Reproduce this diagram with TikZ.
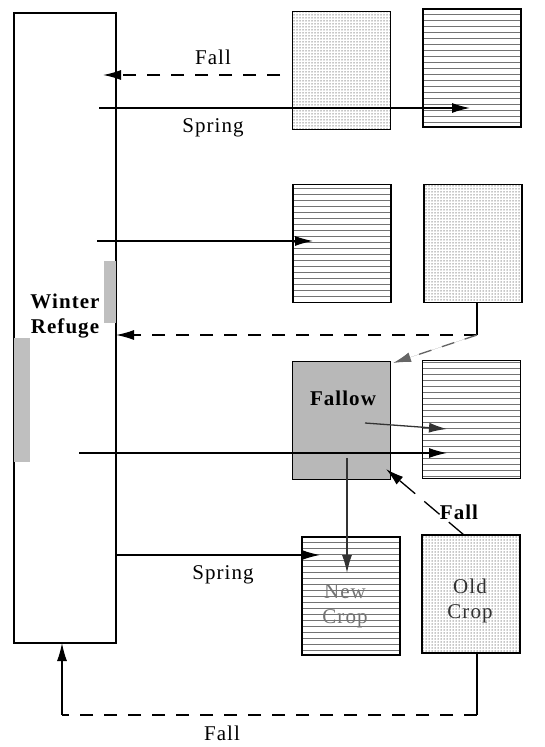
\documentclass[tikz,border=0pt]{standalone}
\usepackage{fontspec}
\setmainfont[LetterSpace=5]{Liberation Serif}
\usetikzlibrary{patterns.meta,arrows.meta,calc}
\begin{document}
\begin{tikzpicture}[x=1pt,y=-1pt,
  box/.style={draw, line width=1.2pt, inner sep=0pt, minimum width=98pt, minimum height=118pt},
  linebox/.style={box, pattern={Lines[angle=0,distance=6pt,line width=1pt]}, pattern color=black!55},
  dotbox/.style={box, pattern={Dots[distance=3pt,radius=0.75pt]}, pattern color=black!45},
  fallowbox/.style={box, fill=black!28},
  conn/.style={line width=1.3pt},
  arr/.style={conn, -{Latex[length=18pt,width=10pt]}},
  dsh/.style={dash pattern=on 13pt off 11pt},
  lbl/.style={font=\fontsize{21}{25}\selectfont, inner sep=1pt},
  blbl/.style={lbl, font=\fontsize{21}{25}\selectfont\bfseries},
]
\useasboundingbox (0,0) rectangle (545,747);

% Winter refuge
\node[draw, line width=1.2pt, inner sep=0pt, minimum width=102pt, minimum height=630pt] (wr) at (65,328) {};
\fill[black!25] (104,261) rectangle (116,323);
\fill[black!25] (14,338) rectangle (30,462);
\draw[line width=1.2pt] (wr.north west) rectangle (wr.south east);
\node[blbl, align=center] (wrt) at (65,316) {Winter\\Refuge};

% boxes
\node[dotbox]  (r1a) at (341.5,70.5) {};
\node[linebox] (r1b) at (472,68) {};
\node[linebox] (r2a) at (342,243.5) {};
\node[dotbox]  (r2b) at (473,243.5) {};
\node[fallowbox] (fal) at (341.5,420.5) {};
\node[linebox] (r3b) at (471.5,419.5) {};
\node[linebox] (nc) at (351,596) {};
\node[dotbox]  (oc) at (471,594) {};

\node[blbl] (falt) at (343,398) {Fallow};
\node[lbl, text=black!55, align=center] (nct) at (345,606) {New\\Crop};
\node[lbl, text=black!80, align=center] (oct) at (470,601) {Old\\Crop};

% coordinates
\coordinate (a1s) at (280,75);   \coordinate (a1e) at (103,75);
\coordinate (a2s) at (99,108);   \coordinate (a2e) at (470,108);
\coordinate (a3s) at (97,241);   \coordinate (a3e) at (313,241);
\coordinate (a4s) at (477,303);  \coordinate (a4m) at (477,335); \coordinate (a4e) at (116,335);
\coordinate (a5e) at (393,363);
\coordinate (a6s) at (365,423);  \coordinate (a6e) at (447,429);
\coordinate (a7s) at (79,453);   \coordinate (a7e) at (447,453);
\coordinate (a8s) at (347,458);  \coordinate (a8e) at (347,573);
\coordinate (a9s) at (464,535);  \coordinate (a9e) at (386,469);
\coordinate (b1s) at (116,555);  \coordinate (b1e) at (320,555);
\coordinate (b2s) at (477,653);  \coordinate (b2m) at (477,715);
\coordinate (b2n) at (62,715);   \coordinate (b2e) at (62,643);

% connectors
\draw[arr, dsh] (a1s) -- (a1e);
\draw[arr] (a2s) -- (a2e);
\draw[arr] (a3s) -- (a3e);
\draw[conn] (a4s) -- (a4m);
\draw[arr, dsh] (a4m) -- (a4e);
\draw[arr, dsh, draw=black!60, fill=black!60] (a4m) -- (a5e);
\draw[arr, draw=black!80] (a6s) -- (a6e);
\draw[arr] (a7s) -- (a7e);
\draw[arr, draw=black!80] (a8s) -- (a8e);
\draw[arr, dash pattern=on 20pt off 12pt] (a9s) -- (a9e);
\draw[arr] (b1s) -- (b1e);
\draw[conn] (b2s) -- (b2m);
\draw[conn, dsh] (b2m) -- (b2n);
\draw[arr] (b2n) -- (b2e);

% labels
\node[lbl] (l1) at (213,57) {Fall};
\node[lbl] (l2) at (213,128) {Spring};
\node[blbl] (l3) at (459,512) {Fall};
\node[lbl] (l4) at (223,575) {Spring};
\node[lbl] (l5) at (222,733) {Fall};
\end{tikzpicture}
\end{document}
